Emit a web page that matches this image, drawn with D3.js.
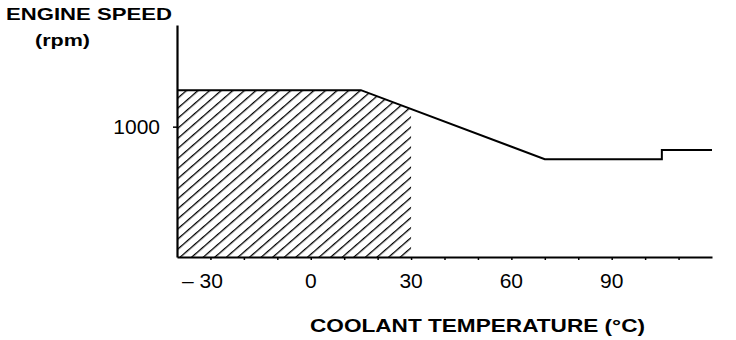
<!DOCTYPE html>
<html>
<head>
<meta charset="utf-8">
<script src="https://cdn.jsdelivr.net/npm/d3@7"></script>
<style>
  html, body { margin: 0; padding: 0; background: #fff; }
  svg { display: block; }
  text { font-family: "Liberation Sans", Arial, Helvetica, sans-serif; fill: #000; }
</style>
</head>
<body>
<svg id="chart" width="736" height="340"></svg>
<script>
// Fast-idle engine speed versus coolant temperature
const tempPoints = [-40, 15, 70, 105, 105, 120];          // °C
const speedPoints = [1280, 1280, 750, 750, 820, 820];      // rpm
const shadedLimit = 30;                                     // °C, end of shaded band
const xTicks = [-30, -20, -10, 0, 10, 20, 30, 40, 50, 60, 70, 80, 90, 100, 110];
const xLabels = [-30, 0, 30, 60, 90];
const yLabels = [1000];

const svg = d3.select("#chart");

const x = d3.scaleLinear().domain([-40, 120]).range([177, 712]);
const y = d3.scaleLinear().domain([0, 1780]).range([257, 25]);

// hatch pattern for the shaded band
const defs = svg.append("defs");
const pat = defs.append("pattern")
  .attr("id", "hatch")
  .attr("patternUnits", "userSpaceOnUse")
  .attr("width", 7.6).attr("height", 7.6)
  .attr("patternTransform", "rotate(49)");
pat.append("line")
  .attr("x1", 0).attr("y1", -1).attr("x2", 0).attr("y2", 8.6)
  .attr("stroke", "#000").attr("stroke-width", 2.6);

const data = tempPoints.map((t, i) => ({ t, v: speedPoints[i] }));

// speed along the curve at a given temperature
const speedAt = t => {
  for (let i = 0; i < data.length - 1; i++) {
    const a = data[i], b = data[i + 1];
    if (t >= a.t && t <= b.t && b.t > a.t) {
      return a.v + (b.v - a.v) * (t - a.t) / (b.t - a.t);
    }
  }
  return data[data.length - 1].v;
};
const shaded = data.filter(d => d.t <= shadedLimit)
  .concat([{ t: shadedLimit, v: speedAt(shadedLimit) }]);

const area = d3.area().x(d => x(d.t)).y0(y(0)).y1(d => y(d.v));
svg.append("path")
  .datum(shaded)
  .attr("d", area)
  .attr("fill", "url(#hatch)");

// speed curve
const line = d3.line().x(d => x(d.t)).y(d => y(d.v));
svg.append("path")
  .datum(data)
  .attr("d", line)
  .attr("fill", "none")
  .attr("stroke", "#000")
  .attr("stroke-width", 2);

// axes
const xAxis = d3.axisBottom(x)
  .tickValues(xTicks).tickSize(3).tickSizeOuter(0).tickFormat("");
svg.append("g")
  .attr("transform", `translate(0,${y(0)})`)
  .call(xAxis)
  .call(g => g.select(".domain").attr("stroke-width", 2))
  .call(g => g.selectAll(".tick line").attr("stroke-width", 1.5));

const yAxis = d3.axisLeft(y)
  .tickValues(yLabels).tickSize(4).tickSizeOuter(0).tickFormat("");
svg.append("g")
  .attr("transform", `translate(${x(-40)},0)`)
  .call(yAxis)
  .call(g => g.select(".domain").attr("stroke-width", 2.2))
  .call(g => g.selectAll(".tick line").attr("stroke-width", 1.5));

// tick labels
svg.append("g").selectAll("text")
  .data(xLabels)
  .join("text")
  .attr("x", d => x(d) + (d < 0 ? -8 : 0))
  .attr("y", 288)
  .attr("text-anchor", "middle")
  .attr("font-size", 21)
  .text(d => d < 0 ? "\u2013 " + Math.abs(d) : d);

svg.append("g").selectAll("text")
  .data(yLabels)
  .join("text")
  .attr("x", 160)
  .attr("y", y(1000) + 7)
  .attr("text-anchor", "end")
  .attr("font-size", 21)
  .text(d => d);

// titles
svg.append("text")
  .attr("x", 6).attr("y", 20)
  .attr("font-size", 17).attr("font-weight", "bold")
  .attr("textLength", 166).attr("lengthAdjust", "spacingAndGlyphs")
  .text("ENGINE SPEED");
svg.append("text")
  .attr("x", 35).attr("y", 46)
  .attr("font-size", 17).attr("font-weight", "bold")
  .attr("textLength", 55).attr("lengthAdjust", "spacingAndGlyphs")
  .text("(rpm)");
svg.append("text")
  .attr("x", 310).attr("y", 332)
  .attr("font-size", 19).attr("font-weight", "bold")
  .attr("textLength", 335).attr("lengthAdjust", "spacingAndGlyphs")
  .text("COOLANT TEMPERATURE (\u00B0C)");
</script>
</body>
</html>
